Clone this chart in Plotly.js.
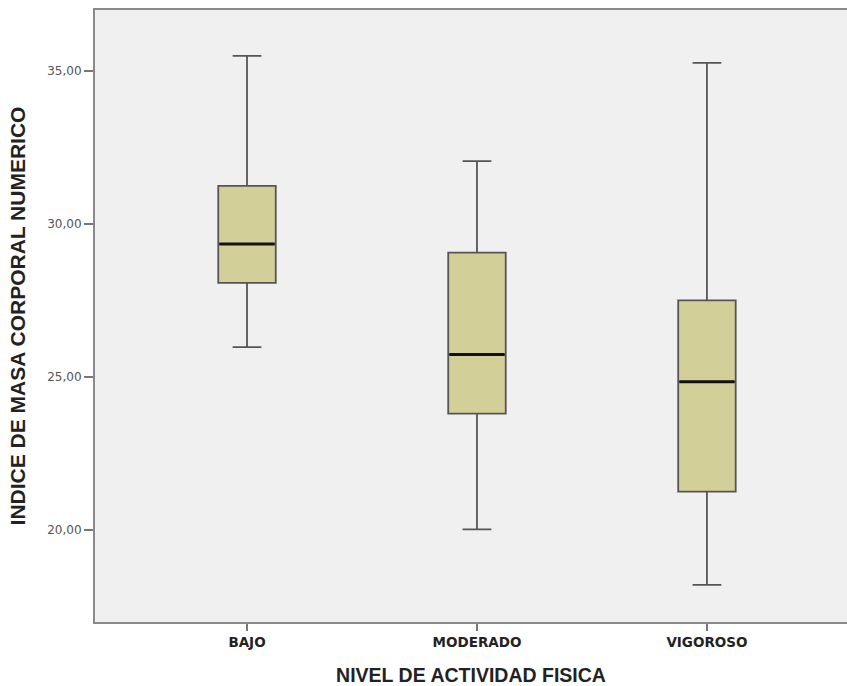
<!DOCTYPE html>
<html>
<head>
<meta charset="utf-8">
<script src="https://cdn.plot.ly/plotly-3.0.1.min.js"></script>
<style>html,body{margin:0;padding:0;background:#fff;overflow:hidden;}</style>
</head>
<body>
<div id="chart" style="width:847px;height:686px;"></div>
<script>
const categories = ["BAJO", "MODERADO", "VIGOROSO"];
const lowerWhisker = [25.98, 20.03, 18.21];
const q1Values = [28.08, 23.81, 21.26];
const medianValues = [29.35, 25.74, 24.85];
const q3Values = [31.25, 29.07, 27.51];
const upperWhisker = [35.50, 32.06, 35.27];
const yTickVals = [20, 25, 30, 35];
const yTickText = ["20,00", "25,00", "30,00", "35,00"];

const boxTrace = {
  type: "box",
  x: categories,
  q1: q1Values,
  median: medianValues,
  q3: q3Values,
  lowerfence: lowerWhisker,
  upperfence: upperWhisker,
  width: 0.25,
  whiskerwidth: 0.5,
  fillcolor: "#d3cf98",
  line: {color: "#555555", width: 1.8},
  boxpoints: false,
  showlegend: false,
  hoverinfo: "skip"
};
const medianTrace = {
  type: "box",
  x: categories,
  q1: medianValues,
  median: medianValues,
  q3: medianValues,
  lowerfence: medianValues,
  upperfence: medianValues,
  width: 0.24,
  whiskerwidth: 0,
  fillcolor: "rgba(0,0,0,0)",
  line: {color: "#111111", width: 3},
  boxpoints: false,
  showlegend: false,
  hoverinfo: "skip"
};

const layout = {
  width: 847,
  height: 686,
  margin: {l: 95, r: 0, t: 10, b: 64},
  paper_bgcolor: "#ffffff",
  plot_bgcolor: "#f0f0f0",
  boxmode: "overlay",
  font: {family: "Liberation Sans, Arial, sans-serif", color: "#333"},
  xaxis: {
    type: "category",
    range: [-0.661, 2.609],
    showgrid: false,
    zeroline: false,
    showline: true,
    linecolor: "#8a8a8a",
    linewidth: 2,
    mirror: true,
    ticks: "outside",
    ticklen: 7,
    tickwidth: 1.5,
    tickcolor: "#777",
    tickfont: {size: 13.5, color: "#222", family: "DejaVu Sans, sans-serif", weight: "bold"},
    title: {text: "NIVEL DE ACTIVIDAD FISICA", font: {size: 19.5, color: "#222", family: "Liberation Sans, Arial, sans-serif", weight: "bold"}, standoff: 24}
  },
  yaxis: {
    range: [17, 37],
    tickvals: yTickVals,
    ticktext: yTickText,
    showgrid: false,
    zeroline: false,
    showline: true,
    linecolor: "#8a8a8a",
    linewidth: 2,
    ticks: "outside",
    ticklen: 9,
    tickwidth: 1.5,
    tickcolor: "#777",
    tickfont: {size: 12, color: "#555", family: "DejaVu Sans, sans-serif"},
    title: {text: "INDICE DE MASA CORPORAL NUMERICO", font: {size: 21, color: "#222", family: "Liberation Sans, Arial, sans-serif", weight: "bold"}, standoff: 16}
  }
};

Plotly.newPlot("chart", [boxTrace, medianTrace], layout, {displayModeBar: false, staticPlot: true});
</script>
</body>
</html>
